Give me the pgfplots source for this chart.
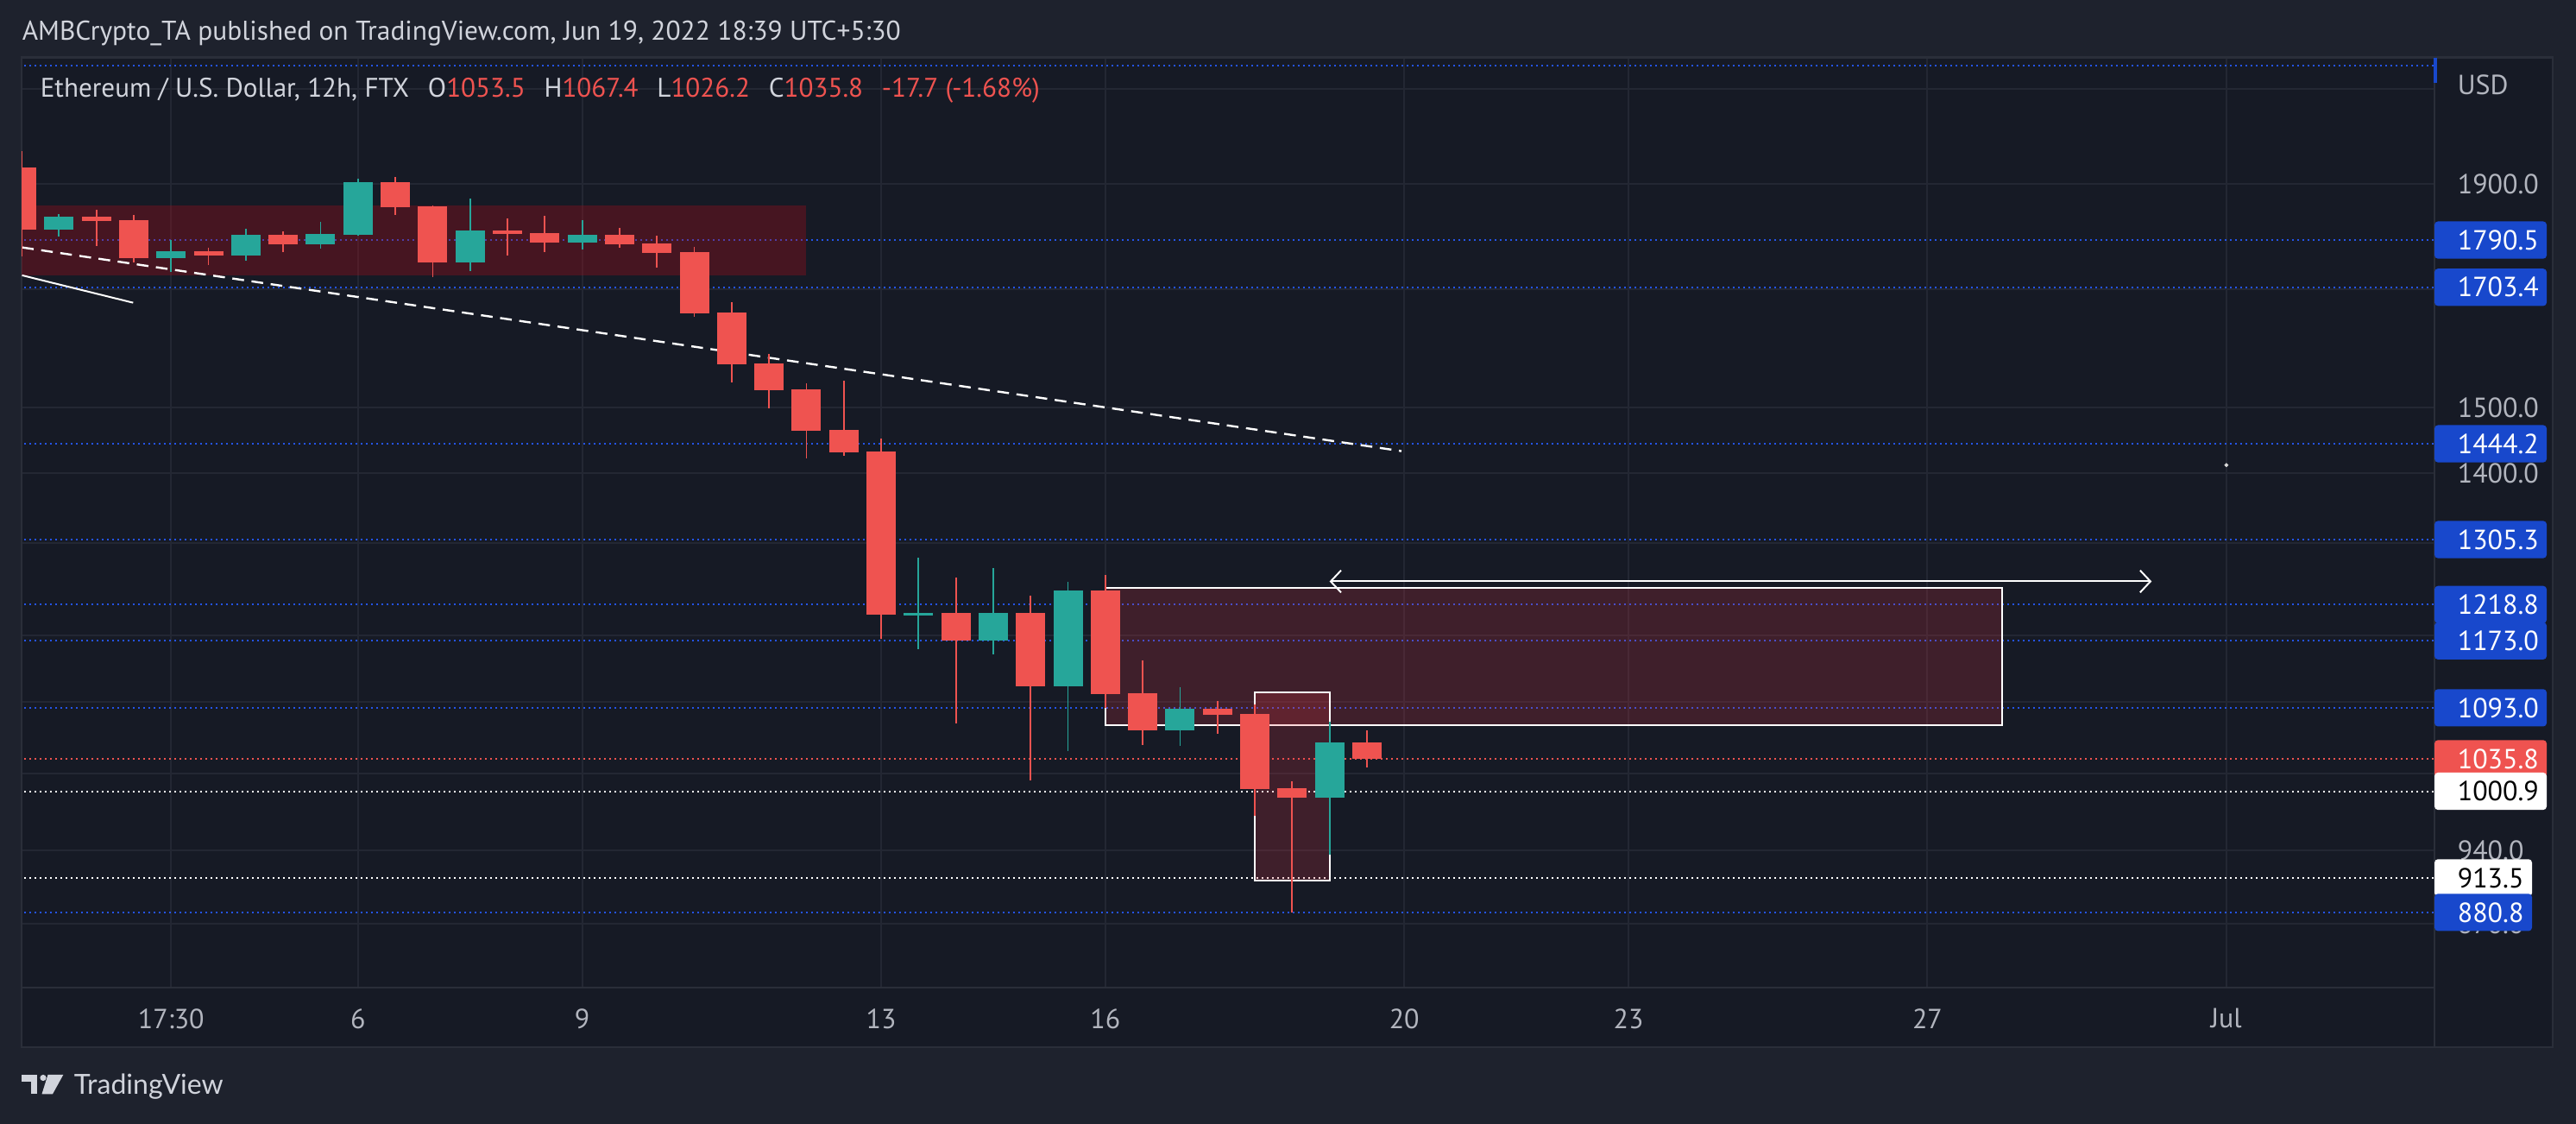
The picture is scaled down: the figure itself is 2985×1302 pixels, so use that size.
\documentclass[border=0pt]{standalone}
\usepackage{fontspec}
\setmainfont{PT Sans}
\newfontfamily\logofont{Lato}
\usepackage{pgfplots}
\pgfplotsset{compat=1.18}
\usetikzlibrary{arrows.meta}

\definecolor{outerbg}{HTML}{1E222D}
\definecolor{panebg}{HTML}{161A25}
\definecolor{gridc}{HTML}{232733}
\definecolor{framec}{HTML}{2A2E39}
\definecolor{txt}{HTML}{D1D4DC}
\definecolor{tickc}{HTML}{B2B5BE}
\definecolor{up}{HTML}{26A69A}
\definecolor{dn}{HTML}{EF5350}
\definecolor{lvlc}{HTML}{2454E8}
\definecolor{badgec}{HTML}{1848CC}
\definecolor{zonetop}{RGB}{180,10,25}
\definecolor{zone}{HTML}{F23645}

% candle: colour, day, open, high, low, close
\newcommand{\cdl}[6]{%
 \addplot[#1, line width=0.45pt, forget plot] coordinates {(#2,#4) (#2,#5)};
 \addplot[#1, line width=8.5pt, forget plot] coordinates {(#2,#3) (#2,#6)};
}
\newcommand{\level}[2]{\addplot[#1, line width=0.5pt, dash pattern=on 0.5pt off 1pt, forget plot] coordinates {(1.4,#2) (34,#2)};}
% price badge: price, fill, text colour, width, label
\newcommand{\badge}[5]{%
 \coordinate (b) at (axis cs:33.785,#1);
 \fill[#2, rounded corners=1pt] ($(b)+(0pt,-5.4pt)$) rectangle ($(b)+(#4,5.4pt)$);
 \node[anchor=west, inner sep=0pt, text=#3, font=\fontsize{8pt}{9pt}\selectfont] at ($(b)+(6.5pt,0pt)$) {#5};
}
\usetikzlibrary{calc}

\begin{document}
\begin{tikzpicture}
\begin{scope}[x=0.25pt,y=0.25pt]
\fill[outerbg] (0,0) rectangle (2985,1302);
\fill[panebg] (25,89) rectangle (2958,1235.3);
\draw[framec, line width=0.6pt] (25,89) rectangle (2958,1235.3);
\draw[framec, line width=0.6pt] (2821,89) -- (2821,1235.3);
\end{scope}

\begin{axis}[
 at={(6.25pt,39.5pt)}, anchor=south west, scale only axis,
 width=699pt, height=269.325pt,
 xmin=1.499, xmax=33.785,
 ymode=log, ymin=813.7, ymax=2170.8,
 axis line style={framec, line width=0.6pt},
 major tick length=0pt,
 grid=major, major grid style={gridc, line width=0.5pt},
 xtick={3.5,6,9,13,16,20,23,27,31},
 xticklabels={17:30,6,9,13,16,20,23,27,Jul},
 ytick={870,940,1020,1100,1180,1300,1400,1500,1700,1900,2100},
 yticklabels={870.0,940.0,,,,,1400.0,1500.0,,1900.0,},
 yticklabel pos=right,
 xticklabel style={font=\fontsize{8pt}{9pt}\selectfont, text=tickc, anchor=center, inner sep=0pt, yshift=-9pt},
 yticklabel style={font=\fontsize{8pt}{9pt}\selectfont, text=tickc, anchor=west, inner sep=0pt, xshift=6.5pt},
 clip mode=individual,
]
% horizontal levels
\level{lvlc}{2153}
\level{lvlc}{1790.5}
\level{lvlc}{1703.4}
\level{lvlc}{1444.2}
\level{lvlc}{1305.3}
\level{lvlc}{1218.8}
\level{lvlc}{1173.0}
\level{lvlc}{1093.0}
\level{lvlc}{880.8}
\level{dn}{1035.8}
\level{white}{1000.9}
\level{white}{913.5}

% zones
\addplot[fill=zonetop, fill opacity=0.31, draw=none, forget plot] coordinates {(1.4,1725) (12,1725) (12,1857) (1.4,1857)};
\addplot[draw=white, line width=0.5pt, fill=zone, fill opacity=0.19, forget plot] coordinates {(22,1073.3) (28,1073.3) (28,1240.5) (16,1240.5) (16,1073.3) (22,1073.3)};
\addplot[draw=white, line width=0.5pt, fill=zone, fill opacity=0.19, forget plot] coordinates {(18.5,910.8) (19,910.8) (19,1110.7) (18,1110.7) (18,910.8) (18.5,910.8)};

% trend lines
\addplot[white, line width=0.6pt, dash pattern=on 3.4pt off 2.2pt, forget plot] coordinates {(1.505,1776.7) (19.963,1433)};
\addplot[white, line width=0.5pt, forget plot] coordinates {(1.505,1725) (2.992,1676)};

% candles (12h)
\cdl{dn}{1.5}{1933.1}{1966.9}{1760.0}{1810.4}
\cdl{up}{2.0}{1810.4}{1840.3}{1797.3}{1835.3}
\cdl{dn}{2.5}{1835.3}{1848.8}{1779.4}{1827.0}
\cdl{dn}{3.0}{1828.7}{1838.7}{1748.8}{1756.8}
\cdl{up}{3.5}{1756.8}{1790.3}{1731.4}{1769.7}
\cdl{dn}{4.0}{1769.7}{1776.1}{1744.1}{1761.6}
\cdl{up}{4.5}{1761.6}{1812.1}{1752.0}{1800.6}
\cdl{dn}{5.0}{1800.6}{1807.1}{1768.1}{1782.6}
\cdl{up}{5.5}{1782.6}{1825.3}{1774.5}{1802.2}
\cdl{up}{6.0}{1800.6}{1910.4}{1798.9}{1903.4}
\cdl{dn}{6.5}{1903.4}{1913.9}{1838.7}{1853.8}
\cdl{dn}{7.0}{1855.5}{1857.2}{1722.0}{1748.8}
\cdl{up}{7.5}{1748.8}{1870.8}{1733.0}{1808.8}
\cdl{dn}{8.0}{1808.8}{1832.0}{1761.6}{1802.2}
\cdl{dn}{8.5}{1803.8}{1837.0}{1768.1}{1785.9}
\cdl{up}{9.0}{1785.9}{1828.7}{1772.9}{1800.6}
\cdl{dn}{9.5}{1800.6}{1813.7}{1776.1}{1782.6}
\cdl{dn}{10.0}{1784.2}{1798.9}{1739.3}{1766.5}
\cdl{dn}{10.5}{1768.1}{1777.8}{1651.3}{1657.3}
\cdl{dn}{11.0}{1658.9}{1677.1}{1540.9}{1570.6}
\cdl{dn}{11.5}{1572.0}{1587.9}{1499.3}{1528.3}
\cdl{dn}{12.0}{1529.7}{1539.5}{1422.2}{1464.3}
\cdl{dn}{12.5}{1465.6}{1543.7}{1426.1}{1431.3}
\cdl{dn}{13.0}{1432.6}{1452.3}{1175.7}{1206.0}
\cdl{up}{13.5}{1204.9}{1280.8}{1162.9}{1208.2}
\cdl{dn}{14.0}{1208.2}{1254.2}{1075.3}{1173.5}
\cdl{up}{14.5}{1173.5}{1266.8}{1156.5}{1208.2}
\cdl{dn}{15.0}{1208.2}{1230.5}{1012.5}{1118.2}
\cdl{up}{15.5}{1118.2}{1248.5}{1044.2}{1237.2}
\cdl{dn}{16.0}{1237.2}{1257.6}{1093.0}{1109.1}
\cdl{dn}{16.5}{1110.1}{1149.2}{1050.8}{1067.5}
\cdl{up}{17.0}{1067.5}{1117.2}{1049.9}{1092.0}
\cdl{dn}{17.5}{1092.0}{1101.0}{1063.6}{1085.1}
\cdl{dn}{18.0}{1086.1}{1097.0}{975.4}{1003.4}
\cdl{dn}{18.5}{1004.3}{1011.6}{880.8}{994.2}
\cdl{up}{19.0}{994.2}{1077.2}{935.9}{1053.5}
\cdl{dn}{19.5}{1053.5}{1067.4}{1026.2}{1035.8}

% projection arrow and marker
\addplot[white, line width=0.5pt, {Straight Barb[length=3pt,width=6.4pt]}-{Straight Barb[length=3pt,width=6.4pt]}, forget plot] coordinates {(19.0,1248.9) (30.0,1248.9)};
\addplot[only marks, mark=*, mark size=0.35pt, white!85!black, forget plot] coordinates {(31,1412)};

% price scale badges
\badge{1790.5}{badgec}{white}{32.5pt}{1790.5}
\badge{1703.4}{badgec}{white}{32.5pt}{1703.4}
\badge{1444.2}{badgec}{white}{32.5pt}{1444.2}
\badge{1305.3}{badgec}{white}{32.5pt}{1305.3}
\badge{1218.8}{badgec}{white}{32.5pt}{1218.8}
\badge{1173.0}{badgec}{white}{32.5pt}{1173.0}
\badge{1093.0}{badgec}{white}{32.5pt}{1093.0}
\badge{1035.8}{dn}{white}{32.5pt}{1035.8}
\badge{1000.9}{white}{black}{32.5pt}{1000.9}
\badge{913.5}{white}{black}{28.25pt}{913.5}
\badge{880.8}{badgec}{white}{28.25pt}{880.8}
\end{axis}

\begin{scope}[x=0.25pt,y=0.25pt]
\fill[badgec] (2820,1205.5) rectangle (2824,1235);
\node[anchor=west, inner sep=0pt, text=tickc, font=\fontsize{8pt}{9pt}\selectfont] at (2847,1204) {USD};

\node[anchor=base west, inner sep=0pt, text=txt] at (25,1255.3)
 {\resizebox{254.5pt}{!}{AMBCrypto\_TA published on TradingView.com, Jun 19, 2022 18:39 UTC+5:30}};
\node[anchor=base west, inner sep=0pt, text=txt] at (46,1189)
 {\resizebox{289.5pt}{!}{Ethereum / U.S. Dollar, 12h, FTX\hspace{0.7em}O\textcolor{dn}{1053.5}\hspace{0.7em}H\textcolor{dn}{1067.4}\hspace{0.7em}L\textcolor{dn}{1026.2}\hspace{0.7em}C\textcolor{dn}{1035.8}\hspace{0.7em}\textcolor{dn}{-17.7 (-1.68\%)}}};

% TradingView logo
\fill[txt] (25,57) rectangle (43.3,49.3);
\fill[txt] (36,57) rectangle (43.3,34.7);
\fill[txt] (50,53.5) circle (3.6);
\fill[txt] (55.5,57) -- (73.3,57) -- (61,34.7) -- (48.5,34.7) -- cycle;
\node[anchor=base west, inner sep=0pt, text=txt] at (85,34.7)
 {\resizebox{43.25pt}{!}{\logofont TradingView}};
\end{scope}
\end{tikzpicture}
\end{document}
